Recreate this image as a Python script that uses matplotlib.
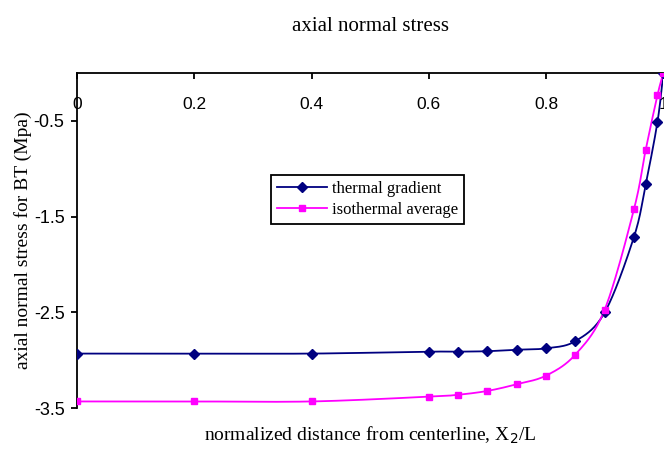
"""Axial normal stress vs normalized distance (Excel-style smoothed lines)."""
import numpy as np
import matplotlib
matplotlib.use("Agg")
import matplotlib.pyplot as plt

# data
x_pos = [0, 0.2, 0.4, 0.6, 0.65, 0.7, 0.75, 0.8, 0.85, 0.9, 0.95, 0.97, 0.99, 1.0]
thermal_gradient = [-2.93, -2.93, -2.93, -2.91, -2.91, -2.905, -2.89, -2.875,
                    -2.80, -2.50, -1.71, -1.16, -0.51, 0.0]
isothermal_average = [-3.43, -3.43, -3.43, -3.38, -3.36, -3.32, -3.25, -3.16,
                      -2.94, -2.47, -1.42, -0.80, -0.23, 0.0]
series_names = ["thermal gradient", "isothermal average"]
x_ticks = [0, 0.2, 0.4, 0.6, 0.8, 1]
x_ticklabels = ["0", "0.2", "0.4", "0.6", "0.8", "1"]
y_ticks = [-0.5, -1.5, -2.5, -3.5]
y_ticklabels = ["-0.5", "-1.5", "-2.5", "-3.5"]

SERIF = ["Liberation Serif", "DejaVu Serif"]
SANS = ["Liberation Sans", "DejaVu Sans"]


def smooth(xs, ys, n=20):
    # Catmull-Rom through the points, like Excel's "smoothed line"
    p = np.column_stack([xs, ys]).astype(float)
    p = np.vstack([p[0], p, p[-1]])
    out = []
    t = np.linspace(0, 1, n, endpoint=False)[:, None]
    for i in range(1, len(p) - 2):
        p0, p1, p2, p3 = p[i - 1], p[i], p[i + 1], p[i + 2]
        seg = 0.5 * ((2 * p1) + (-p0 + p2) * t + (2 * p0 - 5 * p1 + 4 * p2 - p3) * t ** 2
                     + (-p0 + 3 * p1 - 3 * p2 + p3) * t ** 3)
        out.append(seg)
    out.append(p[-2][None, :])
    out = np.vstack(out)
    return out[:, 0], out[:, 1]


fig = plt.figure(figsize=(6.64, 4.51), dpi=100)
ax = fig.add_axes([0.116, 0.095, 0.883, 0.743])

styles = [("#000080", "D", 5), ("#FF00FF", "s", 5)]
for ys, name, (col, mk, ms) in zip([thermal_gradient, isothermal_average], series_names, styles):
    sx, sy = smooth(x_pos, ys)
    ax.plot(sx, sy, color=col, lw=1.3, zorder=3)
    ax.plot(x_pos, ys, ls="none", marker=mk, color=col, ms=ms, zorder=4)
    ax.plot([], [], color=col, lw=1.3, marker=mk, ms=ms, label=name)

ax.set_xlim(0, 1)
ax.set_ylim(-3.5, 0)
ax.spines["bottom"].set_visible(False)
ax.spines["right"].set_visible(False)
for s in ("top", "left"):
    ax.spines[s].set_linewidth(1.3)

ax.set_xticks(x_ticks)
ax.set_xticklabels(x_ticklabels, family=SANS, fontsize=12.5)
ax.xaxis.tick_top()
ax.tick_params(axis="x", direction="in", length=4, width=1.3, pad=-28)
ax.set_yticks(y_ticks)
ax.set_yticklabels(y_ticklabels, family=SANS, fontsize=13)
ax.tick_params(axis="y", direction="out", length=4, width=1.3, pad=5)

ax.set_title("axial normal stress", family=SERIF, fontsize=15, pad=30)
fig.text(0.557, 0.012, "normalized distance from centerline, X$_2$/L",
         family=SERIF, fontsize=14, ha="center", va="bottom")
ax.set_ylabel("axial normal stress for BT (Mpa)", family=SERIF, fontsize=14, labelpad=1)

leg = ax.legend(loc="upper left", bbox_to_anchor=(0.331, 0.696), frameon=True,
                fancybox=False, edgecolor="black", framealpha=1,
                prop={"family": SERIF, "size": 12}, handlelength=3.0,
                borderpad=0.35, labelspacing=0.3, handletextpad=0.3, borderaxespad=0)
leg.get_frame().set_linewidth(1.3)

fig.savefig("out.png", dpi=100)
